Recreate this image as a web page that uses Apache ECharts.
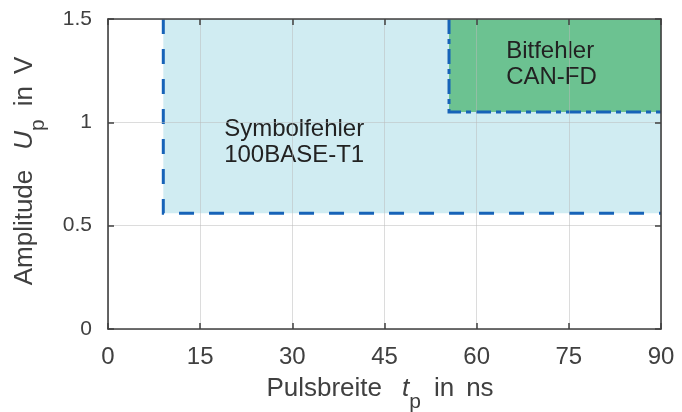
<!DOCTYPE html>
<html>
<head>
<meta charset="utf-8">
<script src="https://cdn.jsdelivr.net/npm/echarts@6/dist/echarts.min.js"></script>
<style>
  html, body { margin: 0; padding: 0; background: #ffffff; }
  #chart { width: 682px; height: 412px; }
</style>
</head>
<body>
<div id="chart"></div>
<script>
// Fault regions in the pulse-width / amplitude plane
const regionNames = ['Symbolfehler\n100BASE-T1', 'Bitfehler\nCAN-FD'];
const regionX = [[9, 90], [55.5, 90]];        // pulse width t_p in ns (start, end)
const regionY = [[0.56, 1.5], [1.05, 1.5]];   // amplitude U_p in V (start, end)
const labelAnchorX = [18.9, 64.8];            // ns
const labelAnchorY = [0.905, 1.28];           // V

// Axis ticks
const xTicks = [0, 15, 30, 45, 60, 75, 90];
const yTicks = [0, 0.5, 1, 1.5];

// Look of each region
const regionStyles = [
  { fill: '#d0ecf2', stroke: '#1763b8', dash: [15, 15] },
  { fill: '#6cc291', stroke: '#1763b8', dash: [15, 5, 5, 5] }
];

const FONT = '"Liberation Sans", Arial, Helvetica, sans-serif';
const AXIS_COLOR = '#404040';
const GRID_COLOR = 'rgba(185,185,185,0.5)';

const regionData = regionNames.map((name, i) => [
  regionX[i][0], regionX[i][1], regionY[i][0], regionY[i][1],
  labelAnchorX[i], labelAnchorY[i]
]);

function renderRegion(params, api) {
  const i = params.dataIndex;
  const st = regionStyles[i];
  const topLeft = api.coord([api.value(0), api.value(3)]);
  const bottomRight = api.coord([api.value(1), api.value(2)]);
  const anchor = api.coord([api.value(4), api.value(5)]);
  return {
    type: 'group',
    children: [
      {
        type: 'rect',
        shape: {
          x: topLeft[0], y: topLeft[1],
          width: bottomRight[0] - topLeft[0],
          height: bottomRight[1] - topLeft[1]
        },
        style: { fill: st.fill }
      },
      {
        type: 'polyline',
        shape: {
          points: [
            [topLeft[0], topLeft[1]],
            [topLeft[0], bottomRight[1]],
            [bottomRight[0], bottomRight[1]]
          ]
        },
        style: { fill: null, stroke: st.stroke, lineWidth: 3, lineDash: st.dash, lineCap: 'butt', lineJoin: 'miter' }
      },
      {
        type: 'text',
        x: anchor[0], y: anchor[1],
        style: {
          text: regionNames[i],
          fontSize: 24,
          fontFamily: FONT,
          lineHeight: 26,
          fill: '#222222',
          align: 'left',
          verticalAlign: 'middle'
        }
      }
    ]
  };
}

const xRange = { min: xTicks[0], max: xTicks[xTicks.length - 1], interval: xTicks[1] - xTicks[0] };
const yRange = { min: yTicks[0], max: yTicks[yTicks.length - 1], interval: yTicks[1] - yTicks[0] };

const boxAxisLine = { show: true, onZero: false, lineStyle: { color: AXIS_COLOR, width: 1.6 } };
const boxAxisTick = { show: true, inside: true, length: 6, lineStyle: { color: AXIS_COLOR, width: 1.5 } };

// Axis titles: italic symbol with a lowered subscript, wide word gaps
const TITLE_SIZE = 26;
const SUB_SIZE = 21;
const titleBase = { fontSize: TITLE_SIZE, height: 30, lineHeight: 30, verticalAlign: 'top', fill: AXIS_COLOR, fontFamily: FONT };
const titleRich = {
  a: titleBase,
  g: Object.assign({}, titleBase, { padding: [0, 0, 0, 13] }),
  v: Object.assign({}, titleBase, { padding: [0, 0, 0, 12] }),
  i: Object.assign({}, titleBase, { fontStyle: 'italic', padding: [0, 0, 0, 20] }),
  s: { fontSize: SUB_SIZE, height: 57, lineHeight: 57, verticalAlign: 'top', fill: AXIS_COLOR, fontFamily: FONT }
};

const chart = echarts.init(document.getElementById('chart'), null, { renderer: 'canvas' });

chart.setOption({
  animation: false,
  backgroundColor: '#ffffff',
  grid: { left: 108, right: 21, top: 19, bottom: 83, containLabel: false },
  graphic: [
    {
      type: 'text',
      x: 380, y: 374,
      silent: true,
      style: {
        text: '{a|Pulsbreite}{i|t}{s|p}{g|in}{v|ns}',
        align: 'center',
        verticalAlign: 'top',
        rich: titleRich
      }
    },
    {
      type: 'text',
      x: 10, y: 171,
      rotation: Math.PI / 2,
      silent: true,
      style: {
        text: '{a|Amplitude}{i|U}{s|p}{g|in}{v|V}',
        align: 'center',
        verticalAlign: 'top',
        rich: titleRich
      }
    }
  ],
  xAxis: [
    {
      type: 'value', position: 'bottom', z: 10,
      min: xRange.min, max: xRange.max, interval: xRange.interval,
      axisLine: boxAxisLine,
      axisTick: boxAxisTick,
      axisLabel: { fontSize: 24, color: AXIS_COLOR, fontFamily: FONT, margin: 16 },
      splitLine: { show: true, lineStyle: { color: GRID_COLOR, width: 1 } }
    },
    {
      type: 'value', position: 'top', z: 10,
      min: xRange.min, max: xRange.max, interval: xRange.interval,
      axisLine: boxAxisLine,
      axisTick: boxAxisTick,
      axisLabel: { show: false },
      splitLine: { show: false }
    }
  ],
  yAxis: [
    {
      type: 'value', position: 'left', z: 10,
      min: yRange.min, max: yRange.max, interval: yRange.interval,
      axisLine: boxAxisLine,
      axisTick: boxAxisTick,
      axisLabel: { fontSize: 21, color: AXIS_COLOR, fontFamily: FONT, margin: 16 },
      splitLine: { show: true, lineStyle: { color: GRID_COLOR, width: 1 } }
    },
    {
      type: 'value', position: 'right', z: 10,
      min: yRange.min, max: yRange.max, interval: yRange.interval,
      axisLine: boxAxisLine,
      axisTick: boxAxisTick,
      axisLabel: { show: false },
      splitLine: { show: false }
    }
  ],
  series: [
    {
      type: 'custom',
      z: 2,
      clip: true,
      renderItem: renderRegion,
      encode: { x: [0, 1], y: [2, 3] },
      data: regionData
    }
  ]
});
</script>
</body>
</html>
